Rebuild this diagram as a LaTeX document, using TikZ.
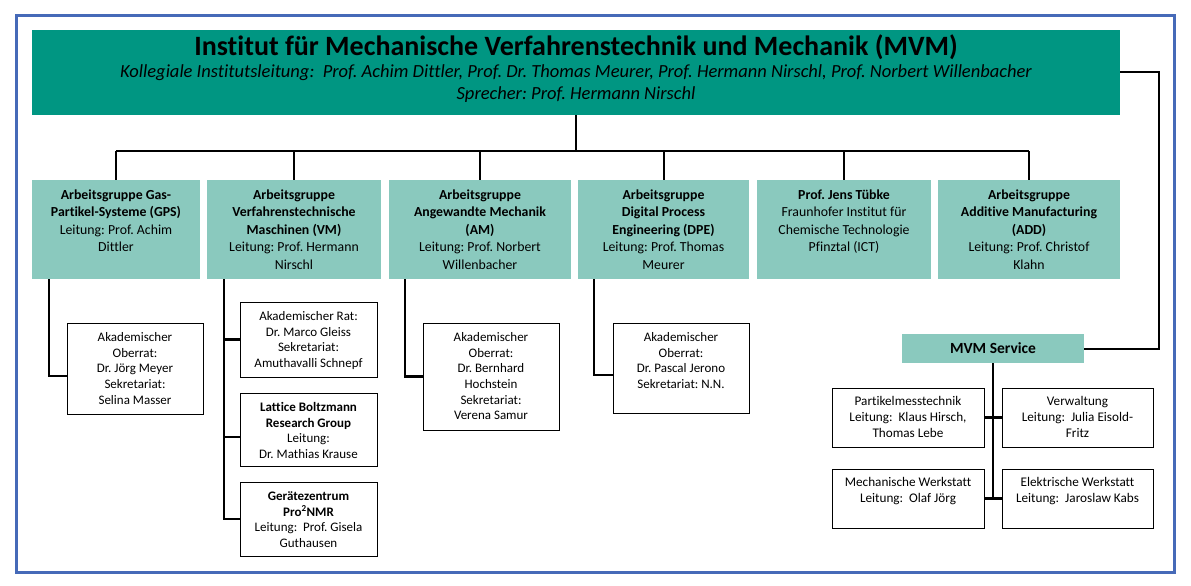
\documentclass[tikz,border=0pt]{standalone}
\usepackage{fontspec}
\setmainfont{Carlito}[Ligatures=CommonOff]
\frenchspacing

\definecolor{mvmteal}{RGB}{0,150,130}
\definecolor{grpteal}{RGB}{138,201,190}
\definecolor{frameblue}{RGB}{70,106,184}

% top aligned text block of fixed width and height
\newcommand{\boxtext}[3]{\parbox[t][#2][t]{#1}{\centering\strut #3}}

\tikzset{
	grp/.style={fill=grpteal, inner xsep=1pt, inner ysep=6.75pt, font=\fontsize{13.8}{17.5}\selectfont},
	sub/.style={draw=black, line width=1pt, fill=white, inner xsep=1pt, inner ysep=7.4pt, font=\fontsize{13}{15.7}\selectfont},
	srv/.style={draw=black, line width=1pt, fill=white, inner xsep=1pt, inner ysep=5.8pt, font=\fontsize{13.2}{16}\selectfont},
	conn/.style={line width=2pt},
	branch/.style={line width=2.6pt}
}

\begin{document}
\begin{tikzpicture}[x=1pt, y=-1pt]

				\useasboundingbox (0,0) rectangle (1191,586);
				\draw[draw=frameblue, line width=3pt] (16,16) rectangle (1174,572);

				% institute head
				\node[fill=mvmteal, minimum width=1088pt, minimum height=85pt, inner sep=0pt] (mvm) at (576,72.5) {};
				\node[anchor=base, font=\bfseries\fontsize{28}{32}\selectfont] (mvmname) at (576,55.5) {Institut für Mechanische Verfahrenstechnik und Mechanik (MVM)};
				\node[anchor=base, font=\itshape\fontsize{18.5}{22}\selectfont] (mvmlead) at (576,77.3) {Kollegiale Institutsleitung:~ Prof. Achim Dittler, Prof. Dr. Thomas Meurer, Prof. Hermann Nirschl, Prof. Norbert Willenbacher};
				\node[anchor=base, font=\itshape\fontsize{18.5}{22}\selectfont] (mvmspeaker) at (576,99.3) {Sprecher: Prof. Hermann Nirschl};

				% working groups
				\node[grp] (gps) at (116,229.5) {\boxtext{166pt}{85.5pt}{\textbf{Arbeitsgruppe Gas-\\Partikel-Systeme (GPS)}\\Leitung: Prof. Achim\\Dittler}};
				\node[grp] (vm) at (294,229.5) {\boxtext{172pt}{85.5pt}{\textbf{Arbeitsgruppe\\Verfahrenstechnische\\Maschinen (VM)}\\Leitung: Prof. Hermann\\Nirschl}};
				\node[grp] (am) at (480,229.5) {\boxtext{180pt}{85.5pt}{\textbf{Arbeitsgruppe\\Angewandte Mechanik\\(AM)}\\Leitung: Prof. Norbert\\Willenbacher}};
				\node[grp] (dpe) at (663.5,229.5) {\boxtext{169pt}{85.5pt}{\textbf{Arbeitsgruppe\\Digital Process\\Engineering (DPE)}\\Leitung: Prof. Thomas\\Meurer}};
				\node[grp] (ict) at (844,229.5) {\boxtext{172pt}{85.5pt}{\textbf{Prof. Jens Tübke}\\Fraunhofer Institut für\\Chemische Technologie\\Pfinztal (ICT)}};
				\node[grp] (add) at (1029,229.5) {\boxtext{180pt}{85.5pt}{\textbf{Arbeitsgruppe\\Additive Manufacturing\\(ADD)}\\Leitung: Prof. Christof\\Klahn}};

				\coordinate (busL) at (116,151);
				\coordinate (busR) at (1029,151);
				\draw[conn] (mvm.south) -- (mvm.south |- busL);
				\draw[conn] (busL) -- (busR);
				\foreach \g in {gps,vm,am,dpe,ict,add}
					\draw[conn] (\g.north |- busL) -- (\g.north);

				% staff of the groups
				\node[sub] (gpsrat) at (135,368.5) {\boxtext{134pt}{76.2pt}{Akademischer\\Oberrat:\\Dr. Jörg Meyer\\Sekretariat:\\Selina Masser}};
				\node[sub] (vmrat) at (308.5,339.5) {\boxtext{135pt}{60.2pt}{Akademischer Rat:\\Dr. Marco Gleiss\\Sekretariat:\\Amuthavalli Schnepf}};
				\node[sub] (lbm) at (308.5,429.5) {\boxtext{135pt}{58.2pt}{\textbf{Lattice Boltzmann\\Research Group}\\Leitung:\\Dr. Mathias Krause}};
				\node[sub] (geraete) at (308.5,519) {\boxtext{135pt}{59.2pt}{\textbf{Gerätezentrum\\Pro\textsuperscript{2}NMR}\\Leitung:~ Prof. Gisela\\Guthausen}};
				\node[sub] (amrat) at (491,376.5) {\boxtext{134pt}{92.2pt}{Akademischer\\Oberrat:\\Dr. Bernhard\\Hochstein\\Sekretariat:\\Verena Samur}};
				\node[sub] (dperat) at (681,368) {\boxtext{134pt}{75.2pt}{Akademischer\\Oberrat:\\Dr. Pascal Jerono\\Sekretariat: N.N.}};

				\coordinate (gpsspine) at ([xshift=17pt]gps.south west);
				\draw[branch] (gpsspine) |- ([yshift=-7.5pt]gpsrat.west);
				\coordinate (vmspine) at ([xshift=17pt]vm.south west);
				\coordinate (lbmin) at ([yshift=-7.5pt]lbm.west);
				\draw[branch] (vmspine) |- (geraete.west);
				\draw[branch] (vmspine |- vmrat.west) -- (vmrat.west);
				\draw[branch] (vmspine |- lbmin) -- (lbmin);
				\coordinate (amspine) at ([xshift=16pt]am.south west);
				\draw[branch] (amspine) |- (amrat.west);
				\coordinate (dpespine) at ([xshift=16pt]dpe.south west);
				\draw[branch] (dpespine) |- ([yshift=-7pt]dperat.west);

				% service
				\node[fill=grpteal, minimum width=182pt, minimum height=29pt, inner sep=0pt, font=\bfseries\fontsize{15.5}{18}\selectfont] (service) at (993,348.5) {MVM Service};
				\node[srv] (partikel) at (908,417.5) {\boxtext{150pt}{47.4pt}{Partikelmesstechnik\\Leitung:~ Klaus Hirsch,\\Thomas Lebe}};
				\node[srv] (verwaltung) at (1077.5,417.5) {\boxtext{149pt}{47.4pt}{Verwaltung\\Leitung:~ Julia Eisold-\\Fritz}};
				\node[srv] (mech) at (908,498.5) {\boxtext{150pt}{47.4pt}{Mechanische Werkstatt\\Leitung:~ Olaf Jörg}};
				\node[srv] (elektro) at (1077.5,498.5) {\boxtext{149pt}{47.4pt}{Elektrische Werkstatt\\Leitung:~ Jaroslaw Kabs}};

				\coordinate (loopcorner) at (1159,72.5);
				\draw[conn] (mvm.east) -- (loopcorner) |- (service.east);
				\draw[branch] (service.south) -- (service.south |- mech.east);
				\draw[branch] (partikel.east) -- (verwaltung.west);
				\draw[branch] (mech.east) -- (elektro.west);
			\end{tikzpicture}
\end{document}
